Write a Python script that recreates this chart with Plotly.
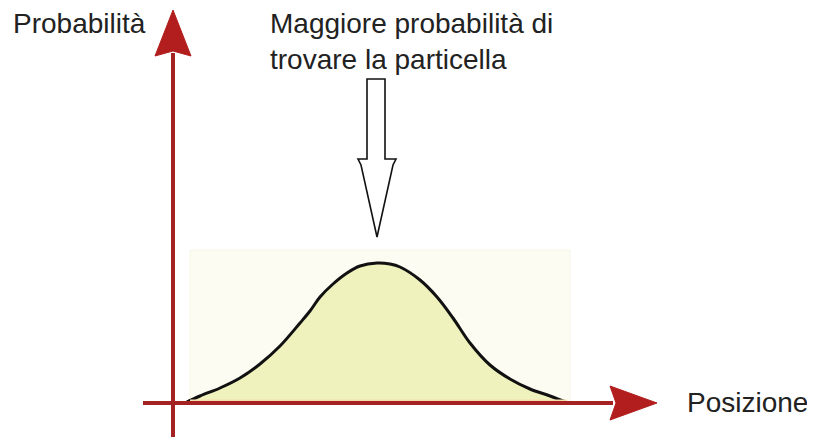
import plotly.graph_objects as go

# curva di probabilita' (posizione, probabilita')
posizione = [12, 27, 47, 67, 87, 107, 127, 137, 147, 160, 174, 187, 204,
             217, 227, 247, 264, 280, 297, 317, 337, 357, 377, 395]
probabilita = [0, 7, 15, 25, 39, 57, 80, 92, 106, 119, 130, 137, 140,
               139, 136, 123, 106, 85, 60, 38, 24, 14, 7, 0]

label_y = "Probabilità"
label_x = "Posizione"
label_top = "Maggiore probabilità di<br>trovare la particella"

AX = "#a52222"
HEAD = "#b21d1d"
TXT = "#222222"
FONT = "Liberation Sans, Arial, sans-serif"

fig = go.Figure()

# riquadro chiaro dietro la curva
fig.add_shape(type="rect", x0=17, x1=397, y0=0, y1=153,
              fillcolor="#fcfcf3", line=dict(color="#f6f6e6", width=1), layer="below")

# curva a campana
fig.add_trace(go.Scatter(x=posizione, y=probabilita, mode="lines",
                         fill="tozeroy", fillcolor="#eff2bc",
                         line=dict(color="#111111", width=3, shape="spline", smoothing=1),
                         hoverinfo="skip"))

# striscia arancio sopra l'asse
fig.add_shape(type="line", x0=17, x1=394, y0=2.5, y1=2.5,
              line=dict(color="#f8dcb0", width=2))

# assi con frecce
fig.add_shape(type="line", x0=0, x1=0, y0=-45, y1=350, line=dict(color=AX, width=4))
fig.add_shape(type="path", path="M 0 393 L 18 347 L 0 352 L -18 347 Z",
              fillcolor=HEAD, line=dict(color=HEAD, width=1))
fig.add_shape(type="line", x0=-30, x1=440, y0=0, y1=0, line=dict(color=AX, width=4))
fig.add_shape(type="path", path="M 484 0 L 437 17 L 443 0 L 437 -17 Z",
              fillcolor=HEAD, line=dict(color=HEAD, width=1))

# freccia vuota verso il picco
fig.add_shape(type="path",
              path="M 194 324 L 212 324 L 212 244 L 223 244 L 220 238 L 204 166 "
                   "L 188 238 L 185 244 L 194 244 Z",
              fillcolor="white", line=dict(color="#111111", width=1.6))

fig.add_annotation(x=-162, y=380, text=label_y, showarrow=False, xanchor="left",
                   yanchor="middle", font=dict(size=28, color=TXT, family=FONT))
fig.add_annotation(x=512, y=1, text=label_x, showarrow=False, xanchor="left",
                   yanchor="middle", font=dict(size=28, color=TXT, family=FONT))
fig.add_annotation(x=95, y=362, text=label_top, showarrow=False, xanchor="left",
                   yanchor="middle", align="left", font=dict(size=28, color=TXT, family=FONT))

# la pagina ha 8px di margine: sposto gli intervalli per compensare
fig.update_xaxes(range=[-165, 650], visible=False)
fig.update_yaxes(range=[-42, 395], visible=False)
fig.update_layout(width=815, height=437, margin=dict(l=0, r=0, t=0, b=0),
                  plot_bgcolor="white", paper_bgcolor="white", showlegend=False)

fig.write_html("out.html")
